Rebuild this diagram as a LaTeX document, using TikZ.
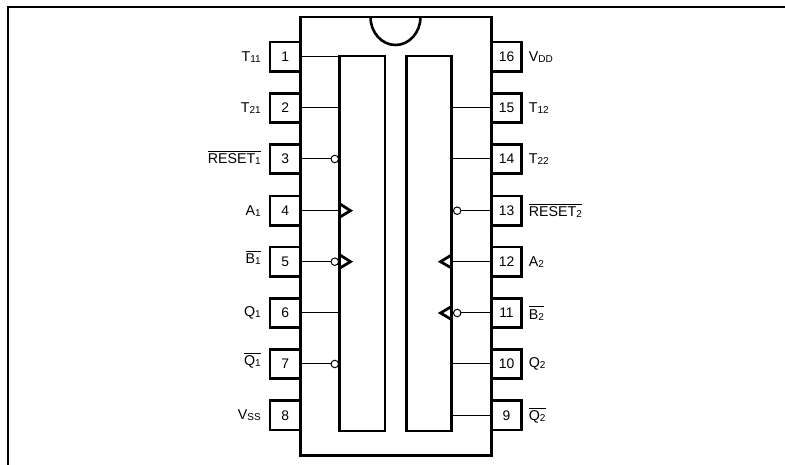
\documentclass[tikz,border=0pt]{standalone}
\usepackage{fontspec}
\setmainfont{Liberation Sans}
\pgfdeclarelayer{bg}
\pgfsetlayers{bg,main}
\newcommand{\sig}[2]{#1\raisebox{-0.08em}{\fontsize{5.7pt}{6pt}\selectfont #2}}
\newcommand{\nsig}[2]{$\overline{\hbox{\sig{#1}{#2}}}$}
\tikzset{pin/.style={draw, line width=0.052cm, minimum width=0.61cm, minimum height=0.59cm, inner sep=0mm, font=\fontsize{7.9pt}{9pt}\selectfont},
    block/.style={draw, line width=0.052cm, inner sep=0mm, minimum height=7.5cm},
    bubble/.style={draw, circle, fill=white, line width=0.02cm, minimum size=0.15cm, inner sep=0mm},
    wire/.style={line width=0.02cm},
    clk/.style={line width=0.055cm},
    pinlab/.style={font=\fontsize{8.1pt}{9pt}\selectfont, inner sep=0mm, label distance=0.15cm},
    pinlabr/.style={font=\fontsize{8.1pt}{9pt}\selectfont, inner sep=0mm, label distance=0.11cm}}

\begin{document}
\begin{tikzpicture}[x=0.02cm, y=-0.02cm]
    \useasboundingbox (0,0) rectangle (785,465);

    \draw [line width=0.045cm] (8,465) -- (8,7) -- (785,7);

    \node (chip) at (396,236.3) [draw, line width=0.052cm, minimum width=3.82cm, minimum height=8.78cm, inner sep=0mm] {};
    \node (blk1) at (362.3,243.5) [block, minimum width=0.91cm] {};
    \node (blk2) at (429,243.5) [block, minimum width=0.91cm] {};
    \draw [line width=0.052cm] (370.5,17) arc (180:0:25 and 28);

    \node (p1) at (285.2,56.7) [pin, label={[pinlab]left:\sig{T}{11}}] {1};
    \node (p2) at (285.2,108) [pin, label={[pinlab]left:\sig{T}{21}}] {2};
    \node (p3) at (285.2,159) [pin, label={[pinlab, yshift=0.03cm]left:\nsig{RESET}{1}}] {3};
    \node (p4) at (285.2,210.7) [pin, label={[pinlab]left:\sig{A}{1}}] {4};
    \node (p5) at (285.2,261.7) [pin, label={[pinlab, yshift=0.08cm]left:\nsig{B}{1}}] {5};
    \node (p6) at (285.2,313) [pin, label={[pinlab]left:\sig{Q}{1}}] {6};
    \node (p7) at (285.2,364) [pin, label={[pinlab, yshift=0.08cm]left:\nsig{Q}{1}}] {7};
    \node (p8) at (285.2,415.3) [pin, label={[pinlab]left:\sig{V}{SS}}] {8};

    \node (p16) at (506.5,56.7) [pin, label={[pinlabr]right:\sig{V}{DD}}] {16};
    \node (p15) at (506.5,108) [pin, label={[pinlabr]right:\sig{T}{12}}] {15};
    \node (p14) at (506.5,159) [pin, label={[pinlabr]right:\sig{T}{22}}] {14};
    \node (p13) at (506.5,210.7) [pin, label={[pinlabr]right:\nsig{RESET}{2}}] {13};
    \node (p12) at (506.5,261.7) [pin, label={[pinlabr]right:\sig{A}{2}}] {12};
    \node (p11) at (506.5,313) [pin, label={[pinlabr]right:\nsig{B}{2}}] {11};
    \node (p10) at (506.5,364) [pin, label={[pinlabr]right:\sig{Q}{2}}] {10};
    \node (p9) at (506.5,415.3) [pin, label={[pinlabr]right:\nsig{Q}{2}}] {9};

    \node (n3) at (334.8,159) [bubble] {};
    \node (n5) at (334.8,261.7) [bubble] {};
    \node (n7) at (334.8,364) [bubble] {};
    \node (n13) at (457.2,210.7) [bubble] {};
    \node (n11) at (457.2,313) [bubble] {};

    \begin{pgfonlayer}{bg}
        \draw [wire] (p1) -- (p1 -| blk1.west);
        \draw [wire] (p2) -- (p2 -| blk1.west);
        \draw [wire] (p3) -- (n3);
        \draw [wire] (p4) -- (p4 -| blk1.west);
        \draw [wire] (p5) -- (n5);
        \draw [wire] (p6) -- (p6 -| blk1.west);
        \draw [wire] (p7) -- (n7);

        \draw [wire] (p15) -- (p15 -| blk2.east);
        \draw [wire] (p14) -- (p14 -| blk2.east);
        \draw [wire] (p13) -- (n13);
        \draw [wire] (p12) -- (p12 -| blk2.east);
        \draw [wire] (p11) -- (n11);
        \draw [wire] (p10) -- (p10 -| blk2.east);
        \draw [wire] (p9) -- (p9 -| blk2.east);
    \end{pgfonlayer}

    \draw [clk] (340,204) -- (350.5,210.7) -- (340,217);
    \draw [clk] (340,255) -- (350.5,261.7) -- (340,268);
    \draw [clk] (451.5,255) -- (440.5,261.7) -- (451.5,268);
    \draw [clk] (451.5,306.5) -- (440.5,313) -- (451.5,319.5);
\end{tikzpicture}
\end{document}
